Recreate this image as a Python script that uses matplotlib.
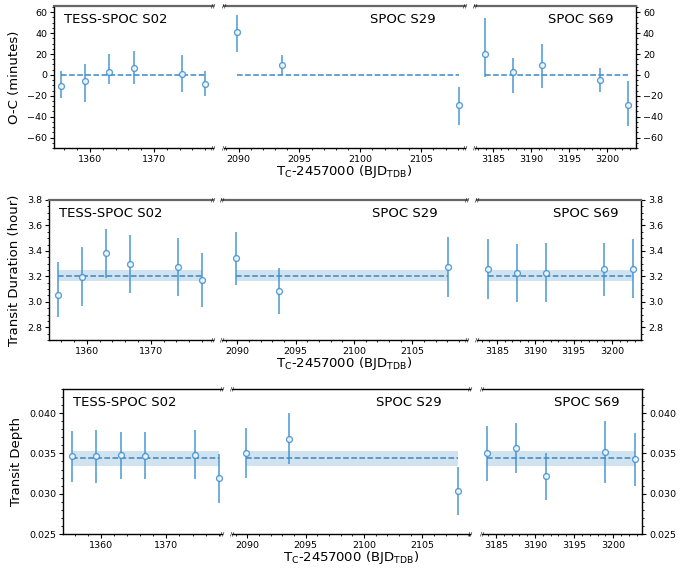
import matplotlib
matplotlib.use("Agg")
import matplotlib.pyplot as plt
from matplotlib.ticker import AutoMinorLocator, MultipleLocator
import numpy as np

# ---------------- data ----------------
sectors = ["TESS-SPOC S02", "SPOC S29", "SPOC S69"]

t_s02 = [1355.5, 1359.3, 1363.0, 1366.8, 1374.3, 1378.0]
t_s29 = [2089.9, 2093.6, 2108.1]
t_s69 = [3183.9, 3187.6, 3191.4, 3199.0, 3202.8]

# O-C (minutes): value, lower err, upper err
oc_s02 = [-10.8, -5.7, 3.2, 7.0, 0.6, -8.3]
oc_s02_lo = [11.7, 20.0, 12.1, 15.9, 16.5, 12.0]
oc_s02_hi = [14.3, 16.2, 17.1, 15.9, 18.8, 12.4]
oc_s29 = [41.3, 9.8, -28.6]
oc_s29_lo = [19.7, 9.8, 19.7]
oc_s29_hi = [16.2, 9.6, 17.2]
oc_s69 = [20.0, 2.9, 9.2, -4.8, -29.2]
oc_s69_lo = [21.9, 20.0, 21.9, 11.4, 19.7]
oc_s69_hi = [34.3, 13.6, 20.6, 11.5, 23.5]
oc_model = 0.0

# Transit duration (hour)
dur_s02 = [3.057, 3.196, 3.380, 3.296, 3.272, 3.173]
dur_s02_lo = [0.176, 0.231, 0.192, 0.226, 0.225, 0.213]
dur_s02_hi = [0.252, 0.231, 0.192, 0.226, 0.226, 0.212]
dur_s29 = [3.341, 3.083, 3.275]
dur_s29_lo = [0.205, 0.178, 0.239]
dur_s29_hi = [0.204, 0.184, 0.234]
dur_s69 = [3.259, 3.225, 3.230, 3.259, 3.259]
dur_s69_lo = [0.233, 0.225, 0.228, 0.210, 0.231]
dur_s69_hi = [0.234, 0.226, 0.229, 0.205, 0.237]
dur_model = 3.205
dur_model_err = 0.045

# Transit depth
dep_s02 = [0.03465, 0.03465, 0.03482, 0.03474, 0.03486, 0.03192]
dep_s02_lo = [0.00322, 0.00327, 0.00294, 0.00286, 0.00306, 0.00302]
dep_s02_hi = [0.00315, 0.00328, 0.00286, 0.00294, 0.00307, 0.00302]
dep_s29 = [0.03503, 0.03681, 0.03035]
dep_s29_lo = [0.00307, 0.00315, 0.00299]
dep_s29_hi = [0.00307, 0.00315, 0.00294]
dep_s69 = [0.03503, 0.03565, 0.03217, 0.03523, 0.03428]
dep_s69_lo = [0.00339, 0.00302, 0.00290, 0.00384, 0.00330]
dep_s69_hi = [0.00340, 0.00307, 0.00294, 0.00382, 0.00332]
dep_model = 0.0344
dep_model_err = 0.0009

# ---------------- figure ----------------
W, H = 700, 570
fig = plt.figure(figsize=(7.0, 5.7), dpi=100)

C_LINE = "#3a87c8"
C_ERR = "#3d8fd1"

times = [t_s02, t_s29, t_s69]

rows = [
    dict(ypx=(6, 148),
         xpx=[(54, 213), (224, 465), (475, 636)],
         xlims=[(1354.4, 1379.2), (2088.8, 2108.6), (3182.6, 3203.8)],
         vals=[(oc_s02, oc_s02_lo, oc_s02_hi), (oc_s29, oc_s29_lo, oc_s29_hi), (oc_s69, oc_s69_lo, oc_s69_hi)],
         model=oc_model, merr=None, ylim=(-70, 66), major=20,
         ylabel="O-C (minutes)", fmt=None, topcol="#666666", toplw=1.6, xlab_y=172),
    dict(ypx=(200, 340),
         xpx=[(49, 213), (222, 467), (477, 641)],
         xlims=[(1354.1, 1379.7), (2088.7, 2109.7), (3182.4, 3203.8)],
         vals=[(dur_s02, dur_s02_lo, dur_s02_hi), (dur_s29, dur_s29_lo, dur_s29_hi), (dur_s69, dur_s69_lo, dur_s69_hi)],
         model=dur_model, merr=dur_model_err, ylim=(2.7, 3.8), major=0.2,
         ylabel="Transit Duration (hour)", fmt="%.1f", topcol="#666666", toplw=1.6, xlab_y=363),
    dict(ypx=(389, 534),
         xpx=[(63, 222), (232, 470), (482, 642)],
         xlims=[(1354.2, 1378.5), (2088.7, 2109.1), (3183.2, 3203.7)],
         vals=[(dep_s02, dep_s02_lo, dep_s02_hi), (dep_s29, dep_s29_lo, dep_s29_hi), (dep_s69, dep_s69_lo, dep_s69_hi)],
         model=dep_model, merr=dep_model_err, ylim=(0.025, 0.043), major=0.005,
         ylabel="Transit Depth", fmt="%.3f", topcol="black", toplw=1.0, xlab_y=557),
]

xmajors = [10, 5, 5]
TICK_FS = 6.8

for r in rows:
    y0, y1 = r["ypx"]
    axes = []
    for j in range(3):
        x0, x1 = r["xpx"][j]
        ax = fig.add_axes([x0 / W, 1 - y1 / H, (x1 - x0) / W, (y1 - y0) / H])
        axes.append(ax)
        t = np.array(times[j])
        v, lo, hi = r["vals"][j]
        # model band + line
        if r["merr"] is not None:
            ax.fill_between([t.min(), t.max()], r["model"] - r["merr"], r["model"] + r["merr"],
                            color="#1f77b4", alpha=0.2, lw=0, zorder=1)
        ax.plot([t.min(), t.max()], [r["model"]] * 2, ls="--", color=C_LINE, lw=1.1, zorder=2)
        ax.errorbar(t, v, yerr=[lo, hi], fmt="o", ms=4.2, mfc="white", mec=C_ERR, mew=1.0,
                    ecolor=C_ERR, elinewidth=1.2, alpha=0.85, capsize=0, zorder=3)
        ax.set_xlim(*r["xlims"][j])
        ax.set_ylim(*r["ylim"])
        ax.xaxis.set_major_locator(MultipleLocator(xmajors[j]))
        ax.xaxis.set_minor_locator(AutoMinorLocator())
        ax.yaxis.set_major_locator(MultipleLocator(r["major"]))
        ax.yaxis.set_minor_locator(AutoMinorLocator())
        if r["fmt"]:
            ax.yaxis.set_major_formatter(matplotlib.ticker.FormatStrFormatter(r["fmt"]))
        ax.tick_params(axis="both", which="major", labelsize=TICK_FS, length=3, width=0.8, direction="out", pad=2)
        ax.tick_params(axis="both", which="minor", length=1.5, width=0.6, direction="out")
        ax.spines["top"].set_color(r["topcol"])
        ax.spines["top"].set_linewidth(r["toplw"])
        for s in ("bottom", "left", "right"):
            ax.spines[s].set_linewidth(1.0)
        if j == 0:
            ax.spines["right"].set_visible(False)
            ax.yaxis.tick_left()
        elif j == 1:
            ax.spines["left"].set_visible(False)
            ax.spines["right"].set_visible(False)
            ax.tick_params(axis="y", which="both", left=False, right=False, labelleft=False)
        else:
            ax.spines["left"].set_visible(False)
            ax.yaxis.tick_right()
            ax.tick_params(axis="y", which="both", labelright=True)
        # sector text
        if j == 0:
            ax.text(0.06, 0.95, sectors[j], transform=ax.transAxes, fontsize=9.5, ha="left", va="top")
        else:
            ax.text(0.88 if j == 1 else 0.86, 0.95, sectors[j], transform=ax.transAxes,
                    fontsize=9.5, ha="right", va="top")
        # break marks: tiny "//" glyphs at the cut ends
        bk = dict(fontsize=4.5, ha="center", va="center", transform=ax.transAxes,
                  clip_on=False, color="k")
        if j < 2:
            ax.text(1.0, 1.0, "//", **bk)
            ax.text(1.0, 0.0, "//", **bk)
        if j > 0:
            ax.text(0.0, 1.0, "//", **bk)
            ax.text(0.0, 0.0, "//", **bk)

    axes[0].set_ylabel(r["ylabel"], fontsize=9.5, labelpad=4)
    cx = (r["xpx"][1][0] + r["xpx"][1][1]) / 2 / W
    fig.text(cx, 1 - r["xlab_y"] / H, r"T$_{\rm C}$-2457000 (BJD$_{\rm TDB}$)",
             ha="center", va="center", fontsize=9.5)

fig.savefig("out.png", dpi=100)
